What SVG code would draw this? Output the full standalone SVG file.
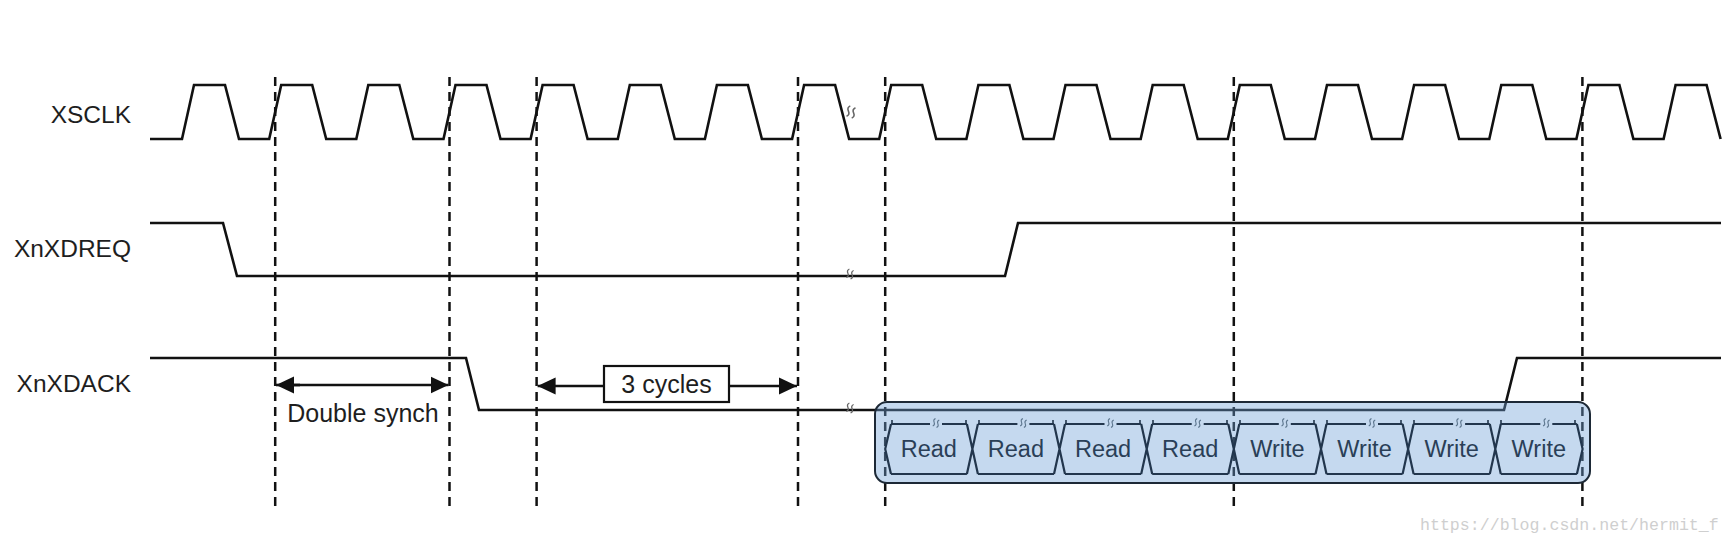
<svg xmlns="http://www.w3.org/2000/svg" xmlns:xlink="http://www.w3.org/1999/xlink" width="1731" height="545" viewBox="0 0 1731 545">
<style>
  .lbl { font-family: "Liberation Sans", Arial, sans-serif; font-size: 24.5px; fill: #1e1e1e; text-anchor: end; }
  .ann { font-family: "Liberation Sans", Arial, sans-serif; font-size: 25px; fill: #1e1e1e; text-anchor: middle; }
  .cellt { font-family: "Liberation Sans", Arial, sans-serif; font-size: 23.5px; fill: #2a3f57; text-anchor: middle; }
  .sig { fill: none; stroke: #111; stroke-width: 2.6; stroke-linejoin: miter; }
  .guide { fill: none; stroke: #111; stroke-width: 2.5; stroke-dasharray: 9 6; }
  .arr { fill: none; stroke: #111; stroke-width: 2.6; }
  .cell { fill: none; stroke: #22364d; stroke-width: 2.2; stroke-linejoin: miter; }
  .brk { fill: none; stroke: #666; stroke-width: 1.4; }
  .brkc { fill: none; stroke: #5f7890; stroke-width: 1.3; }
  .wm { font-family: "Liberation Mono", "DejaVu Sans Mono", monospace; font-size: 16.6px; fill: #cfcfcf; }
</style>
<defs>
  <marker id="ah" markerUnits="userSpaceOnUse" markerWidth="18" markerHeight="18" viewBox="0 0 17 16" refX="17" refY="8" orient="auto">
    <path d="M0,0 L17,8 L0,16 z" fill="#111"/>
  </marker>
  <path id="brkmark" d="M-2.5,-5 q-2.5,2.5 0,5 t0,5 M2.5,-5 q-2.5,2.5 0,5 t0,5"/>
</defs>
<rect width="1731" height="545" fill="#ffffff"/>

<g id="guides">
  <line class="guide" x1="275.2" y1="77" x2="275.2" y2="510"/>
  <line class="guide" x1="449.5" y1="77" x2="449.5" y2="510"/>
  <line class="guide" x1="536.6" y1="77" x2="536.6" y2="510"/>
  <line class="guide" x1="798" y1="77" x2="798" y2="510"/>
  <line class="guide" x1="885.2" y1="77" x2="885.2" y2="510"/>
  <line class="guide" x1="1233.8" y1="77" x2="1233.8" y2="510"/>
  <line class="guide" x1="1582.4" y1="77" x2="1582.4" y2="510"/>
</g>

<g id="xsclk">
  <text class="lbl" x="131" y="122.5">XSCLK</text>
  <path class="sig" d="M150,139 H182 L194,85 H225 L239,139 H269.2 L281.2,85 H312.2 L326.2,139 H356.3 L368.3,85 H399.3 L413.3,139 H443.5 L455.5,85 H486.5 L500.5,139 H530.6 L542.6,85 H573.6 L587.6,139 H617.8 L629.8,85 H660.8 L674.8,139 H704.9 L716.9,85 H747.9 L761.9,139 H792.1 L804.1,85 H835.1 L849.1,139 H879.2 L891.2,85 H922.2 L936.2,139 H966.4 L978.4,85 H1009.4 L1023.4,139 H1053.5 L1065.5,85 H1096.5 L1110.5,139 H1140.7 L1152.7,85 H1183.7 L1197.7,139 H1227.8 L1239.8,85 H1270.8 L1284.8,139 H1315 L1327,85 H1358 L1372,139 H1402.1 L1414.1,85 H1445.1 L1459.1,139 H1489.3 L1501.3,85 H1532.3 L1546.3,139 H1576.4 L1588.4,85 H1619.4 L1633.4,139 H1663.6 L1675.6,85 H1706.6 L1720.6,139"/>
  <use href="#brkmark" class="brk" transform="translate(851,112) rotate(20) scale(1.1)"/>
</g>

<g id="xnxdreq">
  <text class="lbl" x="131" y="256.5">XnXDREQ</text>
  <path class="sig" d="M150,223 H223 L237,276 H1005 L1018,223 H1721"/>
  <use href="#brkmark" class="brk" transform="translate(850,274) rotate(20) scale(0.9)"/>
</g>

<g id="xnxdack">
  <text class="lbl" x="131" y="392">XnXDACK</text>
  <path class="sig" d="M150,358 H466 L479,410 H1504 L1517,358 H1721"/>
  <use href="#brkmark" class="brk" transform="translate(850,408) rotate(20) scale(0.9)"/>
</g>

<g id="transfer-box">
  <rect x="875" y="402" width="715" height="81" rx="12" ry="12" fill="#6ea0d7" fill-opacity="0.4" stroke="#1d2936" stroke-width="2"/>
  <g id="cells" class="cell">
    <path d="M891,424 L885.2,449 L891,474"/>
    <path d="M1576.9,424 L1582.6,449 L1576.9,474"/>
    <path d="M966.9,424 L977.9,474 M977.9,424 L966.9,474"/>
    <path d="M1054,424 L1065,474 M1065,424 L1054,474"/>
    <path d="M1141.2,424 L1152.2,474 M1152.2,424 L1141.2,474"/>
    <path d="M1228.3,424 L1239.3,474 M1239.3,424 L1228.3,474"/>
    <path d="M1315.5,424 L1326.5,474 M1326.5,424 L1315.5,474"/>
    <path d="M1402.6,424 L1413.6,474 M1413.6,424 L1402.6,474"/>
    <path d="M1489.8,424 L1500.8,474 M1500.8,424 L1489.8,474"/>
    <path d="M891,424 H930 M942,424 H966.9 M891,474 H966.9"/>
    <path d="M977.9,424 H1017.4 M1029.4,424 H1054 M977.9,474 H1054"/>
    <path d="M1065,424 H1104.5 M1116.5,424 H1141.2 M1065,474 H1141.2"/>
    <path d="M1152.2,424 H1191.7 M1203.7,424 H1228.3 M1152.2,474 H1228.3"/>
    <path d="M1239.3,424 H1278.8 M1290.8,424 H1315.5 M1239.3,474 H1315.5"/>
    <path d="M1326.5,424 H1366 M1378,424 H1402.6 M1326.5,474 H1402.6"/>
    <path d="M1413.6,424 H1453.1 M1465.1,424 H1489.8 M1413.6,474 H1489.8"/>
    <path d="M1500.8,424 H1540.3 M1552.3,424 H1576.9 M1500.8,474 H1576.9"/>
    <path stroke-width="1.6" d="M892,424 V420 M966,424 V420 M979,424 V420 M1053,424 V420 M1066,424 V420 M1140,424 V420 M1153,424 V420 M1227,424 V420 M1240,424 V420 M1314,424 V420 M1327,424 V420 M1401,424 V420 M1414,424 V420 M1488,424 V420 M1501,424 V420 M1575,424 V420"/>
  </g>
  <g id="cell-breaks" class="brkc">
    <use href="#brkmark" transform="translate(936,423) rotate(20) scale(0.8)"/>
    <use href="#brkmark" transform="translate(1023.4,423) rotate(20) scale(0.8)"/>
    <use href="#brkmark" transform="translate(1110.5,423) rotate(20) scale(0.8)"/>
    <use href="#brkmark" transform="translate(1197.7,423) rotate(20) scale(0.8)"/>
    <use href="#brkmark" transform="translate(1284.8,423) rotate(20) scale(0.8)"/>
    <use href="#brkmark" transform="translate(1372,423) rotate(20) scale(0.8)"/>
    <use href="#brkmark" transform="translate(1459.1,423) rotate(20) scale(0.8)"/>
    <use href="#brkmark" transform="translate(1546.3,423) rotate(20) scale(0.8)"/>
  </g>
  <text class="cellt" x="928.8" y="457">Read</text>
  <text class="cellt" x="1015.9" y="457">Read</text>
  <text class="cellt" x="1103.1" y="457">Read</text>
  <text class="cellt" x="1190.2" y="457">Read</text>
  <text class="cellt" x="1277.4" y="457">Write</text>
  <text class="cellt" x="1364.5" y="457">Write</text>
  <text class="cellt" x="1451.7" y="457">Write</text>
  <text class="cellt" x="1538.8" y="457">Write</text>
</g>

<g id="connectors">
  <g id="double-synch">
    <line class="arr" x1="300" y1="385" x2="276" y2="385" marker-end="url(#ah)"/>
    <line class="arr" x1="290" y1="385" x2="448.5" y2="385" marker-end="url(#ah)"/>
    <text class="ann" x="363" y="422">Double synch</text>
  </g>
  <g id="three-cycles">
    <line class="arr" x1="604" y1="386" x2="537.6" y2="386" marker-end="url(#ah)"/>
    <line class="arr" x1="729" y1="386" x2="797" y2="386" marker-end="url(#ah)"/>
    <rect x="604" y="366" width="125" height="36" fill="#fff" stroke="#111" stroke-width="2.2"/>
    <text class="ann" x="666.5" y="393">3 cycles</text>
  </g>
</g>

<text class="wm" x="1420" y="530">https://blog.csdn.net/hermit_f</text>
</svg>
